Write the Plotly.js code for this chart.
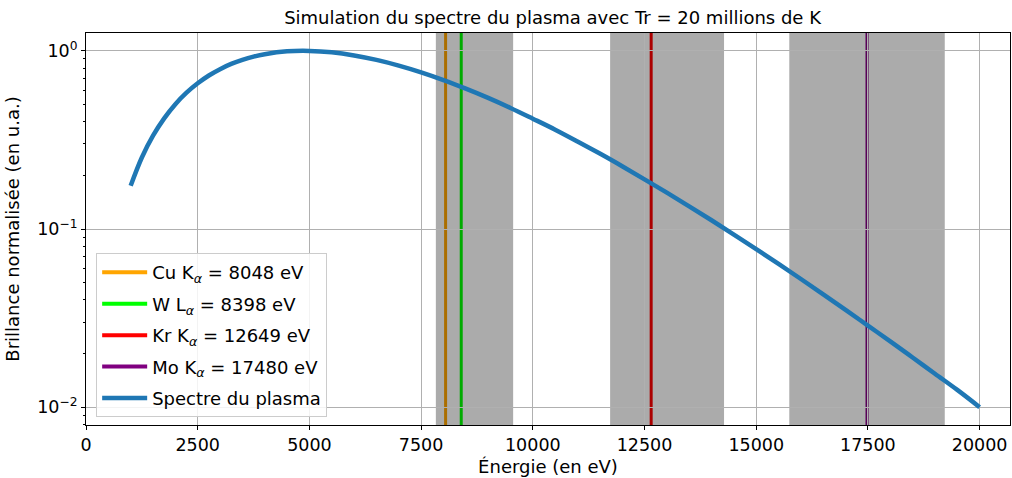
<!DOCTYPE html>
<html>
<head>
<meta charset="utf-8">
<script src="https://cdn.plot.ly/plotly-3.0.1.min.js"></script>
<style>
html,body{margin:0;padding:0;background:#fff;}
#chart{width:1012px;height:478px;}
</style>
</head>
<body>
<div id="chart"></div>
<script>
// Spectrum (energy in eV, normalized brightness)
const energy = [1000,1250,1500,1750,2000,2250,2500,2750,3000,3250,3500,3750,4000,4500,5000,5500,6000,6500,7000,7500,8000,8500,9000,9500,10000,10500,11000,11500,12000,12500,13000,13500,14000,14500,15000,15500,16000,16500,17000,17500,18000,18500,19000,19500,20000];
const brightness = [0.175,0.252,0.334,0.418,0.502,0.582,0.657,0.727,0.789,0.844,0.890,0.928,0.957,0.993,0.999,0.981,0.942,0.889,0.826,0.757,0.685,0.613,0.544,0.478,0.416,0.361,0.310,0.265,0.225,0.190,0.160,0.134,0.112,0.0931,0.0771,0.0637,0.0524,0.0430,0.0352,0.0287,0.0234,0.0190,0.0154,0.0125,0.0100];

// Emission lines
const lineNames = ["Cu K<sub><i>α</i></sub> = 8048 eV","W L<sub><i>α</i></sub> = 8398 eV","Kr K<sub><i>α</i></sub> = 12649 eV","Mo K<sub><i>α</i></sub> = 17480 eV"];
const lineEnergies = [8048, 8398, 12649, 17480];
const lineColors = ["#FFA500","#00FF00","#FF0000","#800080"];

// Shaded windows (eV)
const bandStart = [7830, 11730, 15740];
const bandEnd = [9560, 14280, 19220];

// Axis ticks
const xTicks = [0,2500,5000,7500,10000,12500,15000,17500,20000];
const yTickVals = [0.01, 0.1, 1];
const yTickText = ["10<sup>−2</sup>","10<sup>−1</sup>","10<sup>0</sup>"];

const minorVals = [];
for (let k = -3; k <= 0; k++) for (let m = 2; m <= 9; m++) minorVals.push(m * Math.pow(10, k));

const traces = [];
lineNames.forEach((n, i) => {
  traces.push({x:[null], y:[null], type:'scatter', mode:'lines', name:n, legendgroup:'g'+i,
    line:{color:lineColors[i], width:4}, hoverinfo:'skip'});
});
traces.push({x:energy, y:brightness, type:'scatter', mode:'lines', name:'Spectre du plasma', legendgroup:'spec',
  line:{color:'#1f77b4', width:4.5, shape:'spline', smoothing:1}});

const shapes = [];
lineEnergies.forEach((e, i) => {
  shapes.push({type:'line', layer:'between', xref:'x', yref:'paper', x0:e, x1:e, y0:0, y1:1,
    line:{color:lineColors[i], width:3}});
});
bandStart.forEach((s, i) => {
  shapes.push({type:'rect', layer:'between', xref:'x', yref:'paper', x0:s, x1:bandEnd[i], y0:0, y1:1,
    fillcolor:'rgba(0,0,0,0.33)', line:{width:0}});
});

const layout = {
  width:1012, height:478,
  margin:{l:86, r:2, t:33, b:53},
  paper_bgcolor:'#fff', plot_bgcolor:'#fff',
  font:{family:'DejaVu Sans, sans-serif', size:18, color:'#000'},
  title:{text:'Simulation du spectre du plasma avec Tr = 20 millions de K', font:{size:18, color:'#000'},
    x:0.546, xanchor:'center', y:0.962, yanchor:'middle'},
  showlegend:true,
  legend:{x:0.011, y:0.02, xanchor:'left', yanchor:'bottom', bgcolor:'rgba(255,255,255,0.85)',
    bordercolor:'#cccccc', borderwidth:1, font:{size:18, color:'#000'}, tracegroupgap:5, itemwidth:45},
  xaxis:{range:[0,20680], tickvals:xTicks, ticktext:xTicks.map(String), ticks:'outside', ticklen:4,
    tickcolor:'#000', showline:true, linecolor:'#000', linewidth:1, mirror:true,
    showgrid:true, gridcolor:'#b0b0b0', gridwidth:1, zeroline:false,
    tickfont:{size:17.5}, title:{text:'Énergie (en eV)', font:{size:18}, standoff:6}},
  yaxis:{type:'log', range:[-2.1, 0.1], tickvals:yTickVals, ticktext:yTickText, ticks:'outside', ticklen:4,
    tickcolor:'#000', showline:true, linecolor:'#000', linewidth:1, mirror:true,
    showgrid:true, gridcolor:'#b0b0b0', gridwidth:1, zeroline:false,
    minor:{tickvals:minorVals, ticks:'outside', ticklen:2, tickcolor:'#000', showgrid:false},
    tickfont:{size:17.5}, title:{text:'Brillance normalisée (en u.a.)', font:{size:18}, standoff:12}},
  shapes:shapes
};

Plotly.newPlot('chart', traces, layout, {displayModeBar:false, staticPlot:true});
</script>
</body>
</html>
